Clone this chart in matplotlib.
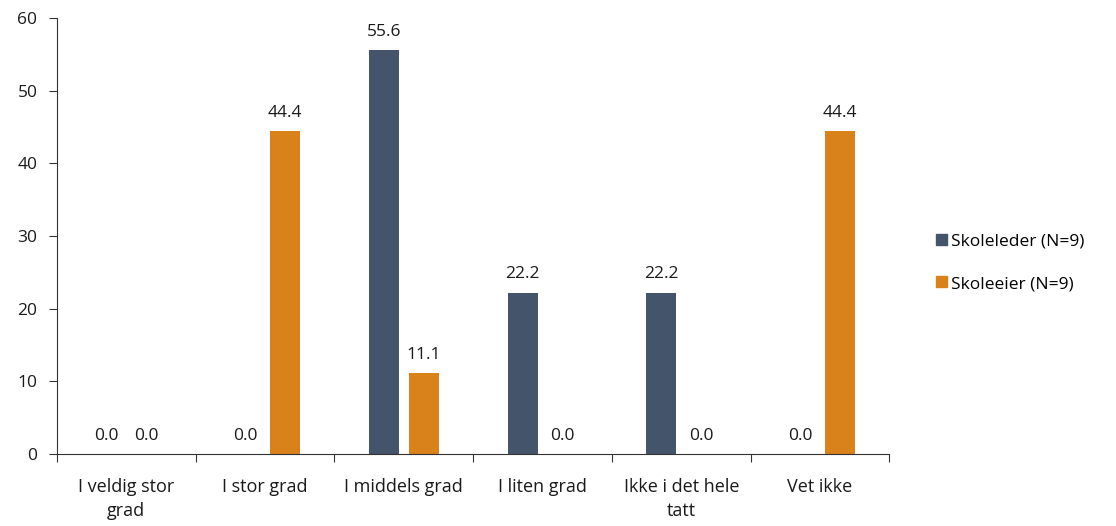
import numpy as np
import matplotlib.pyplot as plt
from matplotlib.patches import Patch

categories = ['I veldig stor\ngrad', 'I stor grad', 'I middels grad', 'I liten grad',
              'Ikke i det hele\ntatt', 'Vet ikke']
skoleleder = [0.0, 0.0, 55.6, 22.2, 22.2, 0.0]
skoleeier = [0.0, 44.4, 11.1, 0.0, 0.0, 44.4]
series_names = ['Skoleleder (N=9)', 'Skoleeier (N=9)']
colors = ['#44546A', '#D9821A']

plt.rcParams['font.family'] = ['Open Sans', 'DejaVu Sans']
fs = 12.5

fig = plt.figure(figsize=(11.16, 5.26), dpi=100)
ax = fig.add_axes([0.051, 0.137, 0.746, 0.829])

x = np.arange(len(categories))
w = 0.216
off = 0.144
b1 = ax.bar(x - off, skoleleder, w, color=colors[0])
b2 = ax.bar(x + off, skoleeier, w, color=colors[1])

for bars, vals in [(b1, skoleleder), (b2, skoleeier)]:
    for rect, v in zip(bars, vals):
        ax.text(rect.get_x() + rect.get_width() / 2, v + 1.4, f'{v:.1f}',
                ha='center', va='bottom', fontsize=fs, color='#1a1a1a')

ax.set_xlim(-0.5, len(categories) - 0.5)
ax.set_ylim(0, 60)
ax.set_yticks(range(0, 61, 10))
ax.set_xticks(np.arange(-0.5, len(categories), 1.0))
ax.set_xticklabels([])
ax.set_xticks(x, minor=True)
ax.set_xticklabels(categories, minor=True, fontsize=13, color='#1a1a1a', linespacing=1.45)
ax.tick_params(axis='x', which='minor', length=0, pad=17)
ax.tick_params(axis='x', which='major', length=6, direction='out', color='#333333')
ax.tick_params(axis='y', length=6, direction='out', labelsize=fs, color='#333333',
               labelcolor='#1a1a1a', pad=8)
for s in ['top', 'right']:
    ax.spines[s].set_visible(False)
for s in ['left', 'bottom']:
    ax.spines[s].set_color('#333333')

handles = [Patch(color=c, label=n) for c, n in zip(colors, series_names)]
fig.legend(handles=handles, loc='center left', bbox_to_anchor=(0.825, 0.5),
           frameon=False, fontsize=fs, handlelength=0.6, handleheight=0.6,
           handletextpad=0.25, labelspacing=1.5)

fig.savefig('out.png', dpi=100)
